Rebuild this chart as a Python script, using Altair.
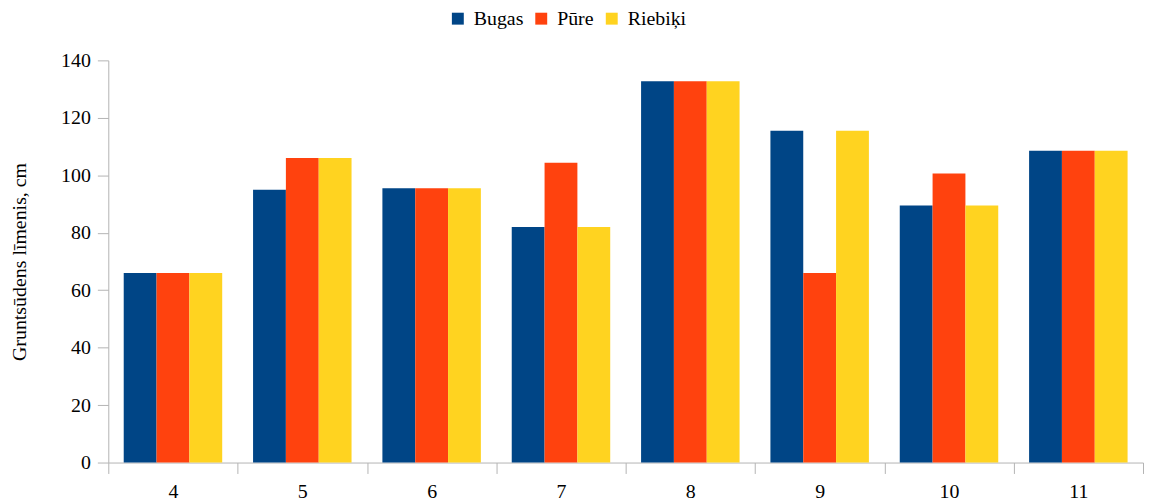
import altair as alt
import pandas as pd

months = ["4", "5", "6", "7", "8", "9", "10", "11"]
series = ["Bugas", "Pūre", "Riebiķi"]
bugas = [66, 95, 95.5, 82, 132.7, 115.5, 89.5, 108.5]
pure = [66, 106, 95.5, 104.4, 132.7, 66, 100.6, 108.5]
riebiki = [66, 106, 95.5, 82, 132.7, 115.5, 89.5, 108.5]
colors = ["#004586", "#ff420e", "#ffd320"]

rows = []
for name, vals in zip(series, [bugas, pure, riebiki]):
    for m, v in zip(months, vals):
        rows.append({"m": m, "s": name, "v": v})
df = pd.DataFrame(rows)

font = "Liberation Serif"
axis_color = "#b3b3b3"

chart = alt.Chart(df).mark_bar().encode(
    x=alt.X("m:N", sort=months, title=None,
            scale=alt.Scale(paddingInner=0, paddingOuter=0),
            axis=alt.Axis(labelAngle=0, tickBand="extent", tickSize=11,
                          labelPadding=8, domainColor=axis_color, tickColor=axis_color,
                          labelFont=font, labelFontSize=20, labelColor="#000000",
                          grid=False)),
    xOffset=alt.XOffset("s:N", sort=series,
                        scale=alt.Scale(paddingInner=0, paddingOuter=0.47)),
    y=alt.Y("v:Q", title="Gruntsūdens līmenis, cm",
            scale=alt.Scale(domain=[0, 140], nice=False),
            axis=alt.Axis(values=list(range(0, 141, 20)), tickSize=11, labelPadding=7,
                          domainColor=axis_color, tickColor=axis_color,
                          labelFont=font, labelFontSize=20, labelColor="#000000",
                          titleFont=font, titleFontSize=20, titleFontWeight="normal",
                          titleColor="#000000", titlePadding=31, grid=False)),
    color=alt.Color("s:N", sort=series, title=None,
                    scale=alt.Scale(domain=series, range=colors),
                    legend=alt.Legend(orient="none", direction="horizontal",
                                      legendX=342, legendY=-52, padding=0,
                                      symbolType="square", symbolSize=144,
                                      symbolStrokeWidth=0, symbolOpacity=1,
                                      labelOffset=6,
                                      labelFont=font, labelFontSize=20,
                                      labelColor="#000000", columnPadding=8)),
).properties(
    width=1042, height=405,
    autosize=alt.AutoSizeParams(type="none"),
    padding={"left": 101, "top": 51, "right": 1, "bottom": 40},
).configure_view(stroke=None)

chart.save("out.html", embed_options={"renderer": "svg", "actions": False})
